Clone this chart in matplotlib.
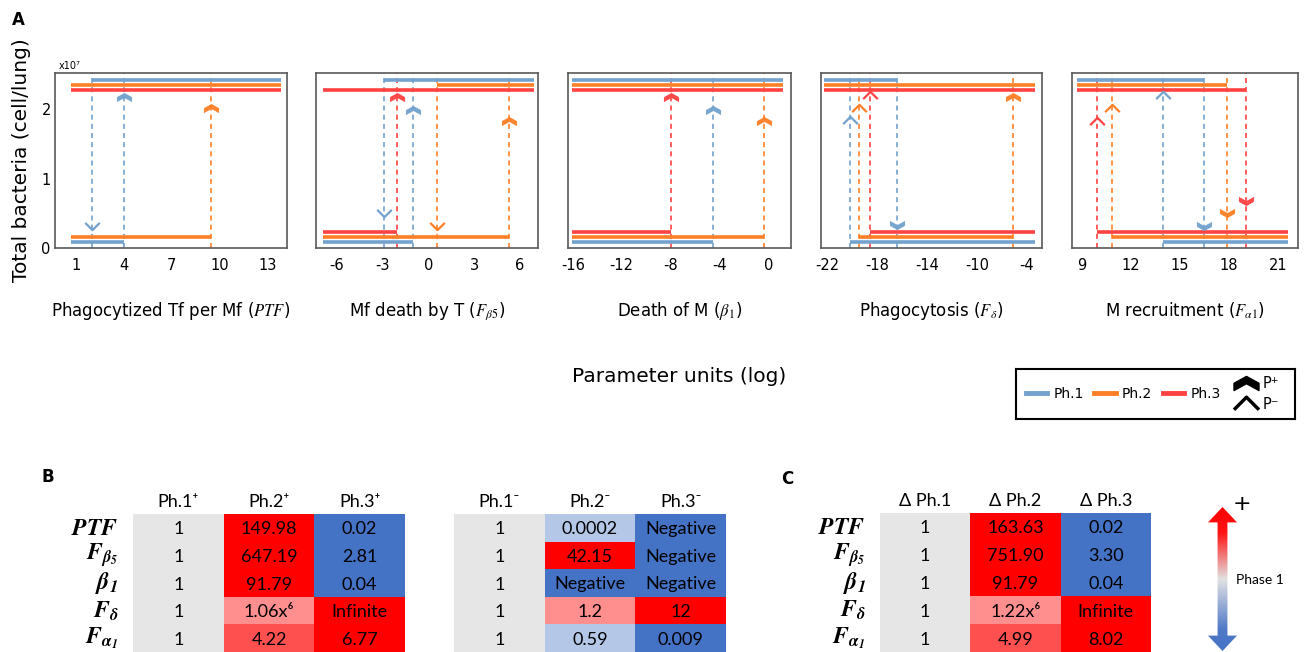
import numpy as np
import matplotlib
matplotlib.use("Agg")
import matplotlib.pyplot as plt
from matplotlib.path import Path
from matplotlib.patches import Rectangle, Polygon
from matplotlib.lines import Line2D
from matplotlib.colors import LinearSegmentedColormap

plt.rcParams["mathtext.fontset"] = "stix"

W, H = 1306, 652

# ---- panel A data (bacteria in units of 1e7, parameter in log units) ----
phase_names = ["Ph.1", "Ph.2", "Ph.3"]
phase_colors = ["#72A2CD", "#FF7F27", "#FF4242"]
top_level = [2.42, 2.35, 2.28]   # high steady state, per phase
low_level = [0.09, 0.16, 0.23]   # low steady state, per phase

xlabels = [
    "Phagocytized Tf per Mf ($\\mathit{PTF}$)",
    "Mf death by T ($F_{\\beta 5}$)",
    "Death of M ($\\beta_1$)",
    "Phagocytosis ($F_\\delta$)",
    "M recruitment ($F_{\\alpha 1}$)",
]
xticks = [[1, 4, 7, 10, 13], [-6, -3, 0, 3, 6], [-16, -12, -8, -4, 0],
          [-22, -18, -14, -10, -6], [9, 12, 15, 18, 21]]
xticklabels = [["1", "4", "7", "10", "13"], ["-6", "-3", "0", "3", "6"],
               ["-16", "-12", "-8", "-4", "0"], ["-22", "-18", "-14", "-10", "-4"],
               ["9", "12", "15", "18", "21"]]
xlims = [(-0.29, 14.2), (-7.35, 7.18), (-16.4, 1.86), (-22.48, -4.8), (8.41, 22.2)]

# upper / lower branch extent per phase (Ph.1, Ph.2, Ph.3)
ptf_upper = [(2.04, 13.8), (0.73, 13.8), (0.73, 13.8)]
ptf_lower = [(0.73, 4.04), (0.73, 9.43), None]
fb5_upper = [(-2.88, 6.9), (0.54, 6.9), (-6.92, 6.9)]
fb5_lower = [(-6.92, -1.03), (-6.92, 5.26), (-6.92, -2.07)]
b1_upper = [(-16.08, 1.18), (-16.08, 1.18), (-16.08, 1.18)]
b1_lower = [(-16.08, -4.5), (-16.08, -0.35), (-16.08, -8.0)]
fd_upper = [(-22.24, -16.38), (-22.24, -5.33), (-22.24, -5.33)]
fd_lower = [(-20.2, -5.33), (-19.46, -7.1), (-18.56, -5.33)]
fa1_upper = [(8.69, 16.49), (8.69, 17.89), (8.69, 19.03)]
fa1_lower = [(13.98, 21.58), (10.85, 21.58), (9.95, 21.58)]

# switch points: (phase, x, marker y, type, direction)
ptf_switches = [(0, 2.04, 0.31, "P-", "down"), (0, 4.04, 2.17, "P+", "up"),
                (1, 9.43, 2.01, "P+", "up")]
fb5_switches = [(0, -2.88, 0.50, "P-", "down"), (2, -2.07, 2.17, "P+", "up"),
                (0, -1.03, 1.99, "P+", "up"), (1, 0.54, 0.32, "P-", "down"),
                (1, 5.26, 1.83, "P+", "up")]
b1_switches = [(2, -8.0, 2.17, "P+", "up"), (0, -4.5, 1.99, "P+", "up"),
               (1, -0.35, 1.83, "P+", "up")]
fd_switches = [(0, -20.2, 1.84, "P-", "up"), (1, -19.46, 2.02, "P-", "up"),
               (2, -18.56, 2.21, "P-", "up"), (0, -16.38, 0.33, "P+", "down"),
               (1, -7.1, 2.17, "P+", "up")]
fa1_switches = [(2, 9.95, 1.83, "P-", "up"), (1, 10.85, 2.01, "P-", "up"),
                (0, 13.98, 2.20, "P-", "up"), (0, 16.49, 0.32, "P+", "down"),
                (1, 17.89, 0.50, "P+", "down"), (2, 19.03, 0.67, "P+", "down")]

panel_upper = [ptf_upper, fb5_upper, b1_upper, fd_upper, fa1_upper]
panel_lower = [ptf_lower, fb5_lower, b1_lower, fd_lower, fa1_lower]
panel_switches = [ptf_switches, fb5_switches, b1_switches, fd_switches, fa1_switches]

# ---- panels B and C data ----
row_labels = [r"$\mathbfit{PTF}$", r"$\mathbfit{F_{\beta_5}}$", r"$\mathbfit{\beta_1}$",
              r"$\mathbfit{F_{\delta}}$", r"$\mathbfit{F_{\alpha_1}}$"]
bplus_cols = ["Ph.1⁺", "Ph.2⁺", "Ph.3⁺"]
bplus_vals = [["1", "149.98", "0.02"], ["1", "647.19", "2.81"], ["1", "91.79", "0.04"],
              ["1", "1.06x⁶", "Infinite"], ["1", "4.22", "6.77"]]
bplus_tone = [["g", "R", "B"], ["g", "R", "B"], ["g", "R", "B"], ["g", "r", "R"], ["g", "m", "R"]]
bminus_cols = ["Ph.1⁻", "Ph.2⁻", "Ph.3⁻"]
bminus_vals = [["1", "0.0002", "Negative"], ["1", "42.15", "Negative"],
               ["1", "Negative", "Negative"], ["1", "1.2", "12"], ["1", "0.59", "0.009"]]
bminus_tone = [["g", "b", "B"], ["g", "R", "B"], ["g", "B", "B"], ["g", "r", "R"], ["g", "b", "B"]]
c_cols = ["Δ Ph.1", "Δ Ph.2", "Δ Ph.3"]
c_vals = [["1", "163.63", "0.02"], ["1", "751.90", "3.30"], ["1", "91.79", "0.04"],
          ["1", "1.22x⁶", "Infinite"], ["1", "4.99", "8.02"]]
c_tone = [["g", "R", "B"], ["g", "R", "B"], ["g", "R", "B"], ["g", "r", "R"], ["g", "m", "R"]]
tone_colors = {"g": "#E6E6E6", "R": "#FF0000", "m": "#FF5050", "r": "#FF8F8F",
               "B": "#4472C4", "b": "#B4C7E7"}

tab_font = ["Lato", "DejaVu Sans"]


def add_ax(l, t, r, b):
    return fig.add_axes([l / W, 1 - b / H, (r - l) / W, (b - t) / H])


def chevron(kind, direction):
    s = 1 if direction == "up" else -1
    if kind == "P-":
        verts = [(-1, -0.5 * s), (0, 0.5 * s), (1, -0.5 * s)]
        codes = [Path.MOVETO, Path.LINETO, Path.LINETO]
        return Path(verts, codes)
    verts, codes = [], []
    h, t = 0.55, 0.25
    for y0 in (-0.315, 0.015):
        pts = [(-1, y0), (0, y0 + h), (1, y0), (1, y0 - t), (0, y0 + h - t), (-1, y0 - t), (-1, y0)]
        verts += [(x, s * y) for x, y in pts]
        codes += [Path.MOVETO] + [Path.LINETO] * 5 + [Path.CLOSEPOLY]
    return Path(verts, codes)


def draw_switch(ax, x, y, color, kind, direction, ms=10.5):
    if kind == "P-":
        ax.plot([x], [y], marker=chevron(kind, direction), ms=ms, ls="none",
                fillstyle="none", mec=color, mew=1.6, zorder=4)
    else:
        ax.plot([x], [y], marker=chevron(kind, direction), ms=ms, ls="none",
                mfc=color, mec=color, mew=0.4, zorder=4)


fig = plt.figure(figsize=(W / 100, H / 100), dpi=100)

boxes = [(55, 73, 287, 248), (316, 73, 538, 248), (568, 73, 791, 248),
         (821, 73, 1042, 248), (1072, 73, 1298, 248)]

for k, box in enumerate(boxes):
    ax = add_ax(*box)
    for i in range(3):
        if panel_upper[k][i]:
            ax.plot(panel_upper[k][i], [top_level[i]] * 2, color=phase_colors[i],
                    lw=2.6, solid_capstyle="butt", zorder=3)
        if panel_lower[k][i]:
            ax.plot(panel_lower[k][i], [low_level[i]] * 2, color=phase_colors[i],
                    lw=2.6, solid_capstyle="butt", zorder=3)
    for i, x, y, kind, d in panel_switches[k]:
        ax.axvline(x, color=phase_colors[i], ls=(0, (3, 2.5)), lw=1.2, zorder=2)
        draw_switch(ax, x, y, phase_colors[i], kind, d)
    ax.set_xlim(*xlims[k])
    ax.set_ylim(0, 2.52)
    ax.set_xticks(xticks[k])
    ax.set_xticklabels(xticklabels[k])
    if k == 0:
        ax.set_yticks([0, 1, 2])
    else:
        ax.set_yticks([])
    ax.tick_params(axis="x", length=0, labelsize=10.5, pad=7)
    ax.tick_params(axis="y", length=0, labelsize=10.5, pad=3)
    for sp in ax.spines.values():
        sp.set_color("#595959")
        sp.set_linewidth(1.2)
    ax.set_xlabel(xlabels[k], fontsize=12)
    ax.xaxis.set_label_coords(0.5, -0.3)

fig.text(18.7 / W, 1 - 20 / H, "A", fontsize=12, fontweight="bold", ha="center", va="center")
fig.text(70 / W, 1 - 66 / H, "x10⁷", fontsize=7, ha="center", va="center")
fig.text(21.7 / W, 1 - 160 / H, "Total bacteria (cell/lung)", fontsize=14.5,
         rotation=90, ha="center", va="center")
fig.text(679 / W, 1 - 376 / H, "Parameter units (log)", fontsize=14.5, ha="center", va="center")

# legend
leg_ax = add_ax(1016, 369, 1295, 419)
leg_ax.set_xticks([])
leg_ax.set_yticks([])
for sp in leg_ax.spines.values():
    sp.set_color("black")
    sp.set_linewidth(1.5)
phase_handles = [Line2D([], [], color=c, lw=3.5) for c in phase_colors]
l1 = leg_ax.legend(phase_handles, phase_names, loc="center left", ncol=3, frameon=False,
                   fontsize=10, handlelength=1.55, handletextpad=0.45, columnspacing=0.75,
                   borderaxespad=0.3)
leg_ax.add_artist(l1)
p_handles = [Line2D([], [], marker=chevron("P+", "up"), ls="none", color="black", ms=18),
             Line2D([], [], marker=chevron("P-", "up"), ls="none", fillstyle="none",
                    mec="black", mew=2.5, ms=18)]
leg_ax.legend(p_handles, ["P⁺", "P⁻"], loc="center left", bbox_to_anchor=(0.76, 0.5),
              frameon=False, fontsize=10.5, handlelength=1.6, handletextpad=0.4,
              labelspacing=0.35, borderaxespad=0.0)


def draw_table(ax, vals, tones, cols, rows=None):
    nr, nc = len(vals), len(vals[0])
    for r in range(nr):
        for c in range(nc):
            ax.add_patch(Rectangle((c, r), 1, 1, facecolor=tone_colors[tones[r][c]],
                                   edgecolor="none"))
            ax.text(c + 0.5, r + 0.5, vals[r][c], ha="center", va="center_baseline",
                    fontsize=13, family=tab_font)
    for c, h in enumerate(cols):
        ax.text(c + 0.5, -0.5, h, ha="center", va="center_baseline", fontsize=13,
                family=tab_font)
    if rows:
        for r, lab in enumerate(rows):
            ax.text(-0.16, r + 0.5, lab, ha="right", va="center", fontsize=17)
    ax.set_xlim(0, nc)
    ax.set_ylim(nr, 0)
    ax.axis("off")


draw_table(add_ax(133, 514, 405, 652), bplus_vals, bplus_tone, bplus_cols, row_labels)
draw_table(add_ax(454, 514, 726, 652), bminus_vals, bminus_tone, bminus_cols)
draw_table(add_ax(880, 513, 1151, 652), c_vals, c_tone, c_cols, row_labels)
fig.text(47.5 / W, 1 - 477.5 / H, "B", fontsize=12, fontweight="bold", ha="center", va="center")
fig.text(787 / W, 1 - 479 / H, "C", fontsize=12, fontweight="bold", ha="center", va="center")

# colour arrow for panel C
garr = add_ax(1208, 507, 1237, 651)
garr.set_xlim(-1, 1)
garr.set_ylim(0, 1)
garr.axis("off")
phase_cmap = LinearSegmentedColormap.from_list(
    "ph", [(0, "#4472C4"), (0.15, "#5079C8"), (0.5, "#E2E2E2"), (0.82, "#FF1414"), (1, "#FF0000")])
im = garr.imshow(np.linspace(0, 1, 256).reshape(-1, 1), extent=(-1, 1, 0, 1), origin="lower",
                 cmap=phase_cmap, aspect="auto")
hw, hh = 0.34, 0.107
arrow_shape = Polygon([(0, 1), (1, 1 - hh), (hw, 1 - hh), (hw, hh), (1, hh), (0, 0),
                       (-1, hh), (-hw, hh), (-hw, 1 - hh), (-1, 1 - hh)], closed=True,
                      facecolor="none", edgecolor="none", transform=garr.transData)
garr.add_patch(arrow_shape)
im.set_clip_path(arrow_shape)
fig.text(1242 / W, 1 - 504 / H, "+", fontsize=16, ha="center", va="center")
fig.text(1236 / W, 1 - 580 / H, "Phase 1", fontsize=10, ha="left", va="center", family=tab_font)

fig.savefig("out.png", dpi=100)
